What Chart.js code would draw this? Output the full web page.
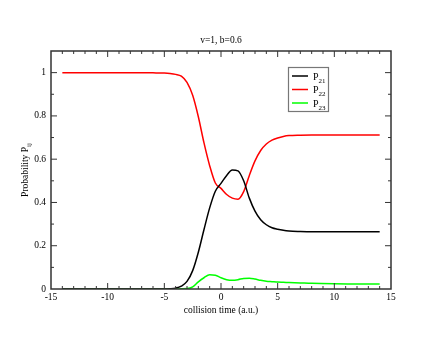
<!DOCTYPE html>
<html>
<head>
<meta charset="utf-8">
<script src="https://cdn.jsdelivr.net/npm/chart.js@4.4.1/dist/chart.umd.min.js"></script>
<style>body{margin:0;background:#fff}</style>
</head>
<body>
<canvas id="chart" width="440" height="340"></canvas>
<script>
const times = [-14, -12, -10, -8, -6, -5, -4.5, -4, -3.5, -3, -2.5, -2, -1.5, -1, -0.5, 0, 0.5, 1, 1.5, 2, 2.5, 3, 3.5, 4, 4.5, 5, 5.5, 6, 7, 8, 10, 12, 14];
const p21 = [0, 0, 0, 0, 0, 0, 0.001, 0.004, 0.013, 0.035, 0.085, 0.17, 0.275, 0.375, 0.452, 0.488, 0.525, 0.55, 0.546, 0.5, 0.42, 0.36, 0.32, 0.297, 0.283, 0.276, 0.271, 0.268, 0.266, 0.265, 0.265, 0.265, 0.265];
const p22 = [1, 1, 1, 1, 0.999, 0.998, 0.996, 0.992, 0.984, 0.955, 0.895, 0.796, 0.675, 0.57, 0.49, 0.465, 0.437, 0.42, 0.415, 0.45, 0.525, 0.592, 0.64, 0.67, 0.688, 0.698, 0.705, 0.709, 0.711, 0.712, 0.712, 0.712, 0.712];
const p23 = [0, 0, 0, 0, 0, 0, 0, 0, 0.001, 0.002, 0.01, 0.033, 0.052, 0.066, 0.064, 0.052, 0.043, 0.04, 0.043, 0.049, 0.05, 0.046, 0.04, 0.036, 0.034, 0.032, 0.031, 0.03, 0.028, 0.026, 0.024, 0.023, 0.023];
const xTicks = [-15, -10, -5, 0, 5, 10, 15];
const yTicks = [0, 0.2, 0.4, 0.6, 0.8, 1];
const subs = ["21", "22", "23"];
const colors = ["#000000", "#ff0000", "#00ff00"];

const serif = "'Liberation Serif', 'Times New Roman', serif";

const pts = arr => times.map((t, i) => ({ x: t, y: arr[i] }));

const decor = {
  id: "decor",
  afterDraw(chart) {
    const { ctx, chartArea: a, scales: { x, y } } = chart;
    ctx.save();
    // frame
    ctx.strokeStyle = "#333";
    ctx.lineWidth = 1.5;
    ctx.strokeRect(a.left, a.top, a.right - a.left, a.bottom - a.top);
    // inward ticks
    ctx.lineWidth = 1;
    ctx.beginPath();
    for (let v = -14; v <= 14; v++) {
      const px = x.getPixelForValue(v);
      const len = v % 5 === 0 ? 6 : 3;
      ctx.moveTo(px, a.bottom); ctx.lineTo(px, a.bottom - len);
      ctx.moveTo(px, a.top); ctx.lineTo(px, a.top + len);
    }
    for (let k = 1; k <= 10; k++) {
      const py = y.getPixelForValue(k / 10);
      const len = k % 2 === 0 ? 6 : 3;
      ctx.moveTo(a.left, py); ctx.lineTo(a.left + len, py);
      ctx.moveTo(a.right, py); ctx.lineTo(a.right - len, py);
    }
    ctx.stroke();

    ctx.fillStyle = "#000";
    // title
    ctx.font = "9.5px " + serif;
    ctx.textAlign = "center";
    ctx.textBaseline = "alphabetic";
    ctx.fillText("v=1, b=0.6", (a.left + a.right) / 2, 43);
    // x title
    ctx.fillText("collision time (a.u.)", (a.left + a.right) / 2, 313);
    // y title with subscript
    ctx.save();
    ctx.translate(28, (a.top + a.bottom) / 2);
    ctx.rotate(-Math.PI / 2);
    const main = "Probability P";
    ctx.font = "9.5px " + serif;
    const w1 = ctx.measureText(main).width;
    ctx.font = "7px " + serif;
    const w2 = ctx.measureText("ij").width;
    ctx.textAlign = "left";
    ctx.font = "9.5px " + serif;
    ctx.fillText(main, -(w1 + w2) / 2, 0);
    ctx.font = "7px " + serif;
    ctx.fillText("ij", -(w1 + w2) / 2 + w1, 3);
    ctx.restore();

    // legend
    ctx.strokeStyle = "#777";
    ctx.lineWidth = 1.2;
    ctx.strokeRect(288.5, 67.5, 40, 44);
    const rows = [76, 89.5, 103];
    chart.data.datasets.forEach((ds, i) => {
      ctx.strokeStyle = ds.borderColor;
      ctx.lineWidth = 1.5;
      ctx.beginPath();
      ctx.moveTo(292, rows[i]); ctx.lineTo(308, rows[i]);
      ctx.stroke();
      ctx.textAlign = "left";
      ctx.font = "10px " + serif;
      ctx.fillText("P", 313, rows[i] + 3.5);
      const pw = ctx.measureText("P").width;
      ctx.font = "7px " + serif;
      ctx.fillText(subs[i], 313 + pw, rows[i] + 6.5);
    });
    ctx.restore();
  }
};

new Chart(document.getElementById("chart").getContext("2d"), {
  type: "line",
  data: {
    datasets: [0, 1, 2].map(i => ({
      label: "P" + subs[i],
      data: pts([p21, p22, p23][i]),
      borderColor: colors[i],
      borderWidth: 1.5,
      pointRadius: 0,
      fill: false,
      cubicInterpolationMode: "monotone"
    }))
  },
  options: {
    responsive: false,
    animation: false,
    layout: { padding: { left: 0, right: 49, top: 51, bottom: 0 } },
    plugins: { legend: { display: false }, tooltip: { enabled: false } },
    scales: {
      x: {
        type: "linear",
        min: -15,
        max: 15,
        afterBuildTicks: s => { s.ticks = xTicks.map(v => ({ value: v })); },
        afterFit: s => { s.height = 51; },
        grid: { display: false, drawTicks: false },
        border: { display: false },
        ticks: { padding: 3, color: "#000", font: { family: serif, size: 9.5 }, maxRotation: 0 }
      },
      y: {
        min: 0,
        max: 1.1,
        afterBuildTicks: s => { s.ticks = yTicks.map(v => ({ value: v })); },
        afterFit: s => { s.width = 51; },
        grid: { display: false, drawTicks: false },
        border: { display: false },
        ticks: {
          padding: 5,
          color: "#000",
          font: { family: serif, size: 9.5 },
          callback: v => String(Number(v.toFixed(1)))
        }
      }
    }
  },
  plugins: [decor]
});
</script>
</body>
</html>
